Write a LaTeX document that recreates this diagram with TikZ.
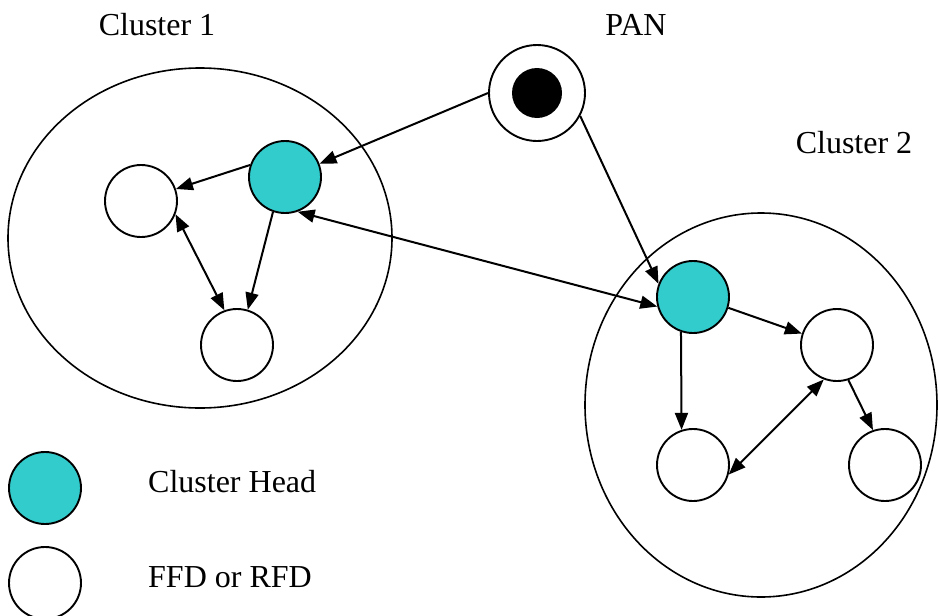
\documentclass[tikz,border=0pt]{standalone}
\usepackage{fontspec}
\setmainfont{Liberation Serif}
\usetikzlibrary{arrows.meta}
\definecolor{headcol}{HTML}{33CCCC}
\begin{document}
\begin{tikzpicture}[x=1pt,y=-1pt,
  lbl/.style={inner sep=0pt,font=\fontsize{32}{37}\selectfont},
  dev/.style={circle,draw,line width=1.9pt,minimum size=72pt,inner sep=0pt,fill=white},
  head/.style={dev,fill=headcol},
  clus/.style={draw,line width=1.6pt},
  arr/.style={line width=2pt,-{Triangle[length=17pt,width=13pt]}},
  darr/.style={line width=2pt,{Triangle[length=17pt,width=13pt]}-{Triangle[length=17pt,width=13pt]}}]
\useasboundingbox (0,0) rectangle (938,616);
% clusters
\draw[clus] (200,238) ellipse [x radius=192, y radius=170];
\draw[clus] (761,405) ellipse [x radius=176, y radius=192];
% labels
\node[lbl,anchor=base] (l1) at (157,35) {Cluster 1};
\node[lbl,anchor=base] (lp) at (636,35) {PAN};
\node[lbl,anchor=base] (l2) at (854,153) {Cluster 2};
% PAN
\node[dev,minimum size=96pt] (pan) at (537,93) {};
\node[circle,fill=black,minimum size=50pt,inner sep=0pt] (pandot) at (537,93) {};
% cluster 1
\node[head] (ch1) at (285,177) {};
\node[dev] (a1) at (141,201) {};
\node[dev] (b1) at (237,345) {};
% cluster 2
\node[head] (ch2) at (693,297) {};
\node[dev] (r2) at (837,345) {};
\node[dev] (bl2) at (693,465) {};
\node[dev] (br2) at (885,465) {};
% legend
\node[head] (lh) at (45,488) {};
\node[dev] (ld) at (45,583) {};
\node[lbl,anchor=base west] (lht) at (148,492) {Cluster Head};
\node[lbl,anchor=base west] (ldt) at (148,587) {FFD or RFD};
% connectors
\draw[arr] (pan.180) -- (ch1.21);
\draw[arr] (pan.-28) -- (ch2.159);
\draw[arr] (ch1.161) -- (a1.19);
\draw[arr] (ch1.251) -- (b1.73);
\draw[darr] (a1.-21) -- (b1.110);
\draw[darr] (ch1.-70) -- (ch2.195);
\draw[arr] (ch2.-17) -- (r2.162);
\draw[arr] (ch2.251) -- (bl2.108);
\draw[darr] (r2.-111) -- (bl2.-15);
\draw[arr] (r2.-72) -- (br2.109);
\end{tikzpicture}
\end{document}
